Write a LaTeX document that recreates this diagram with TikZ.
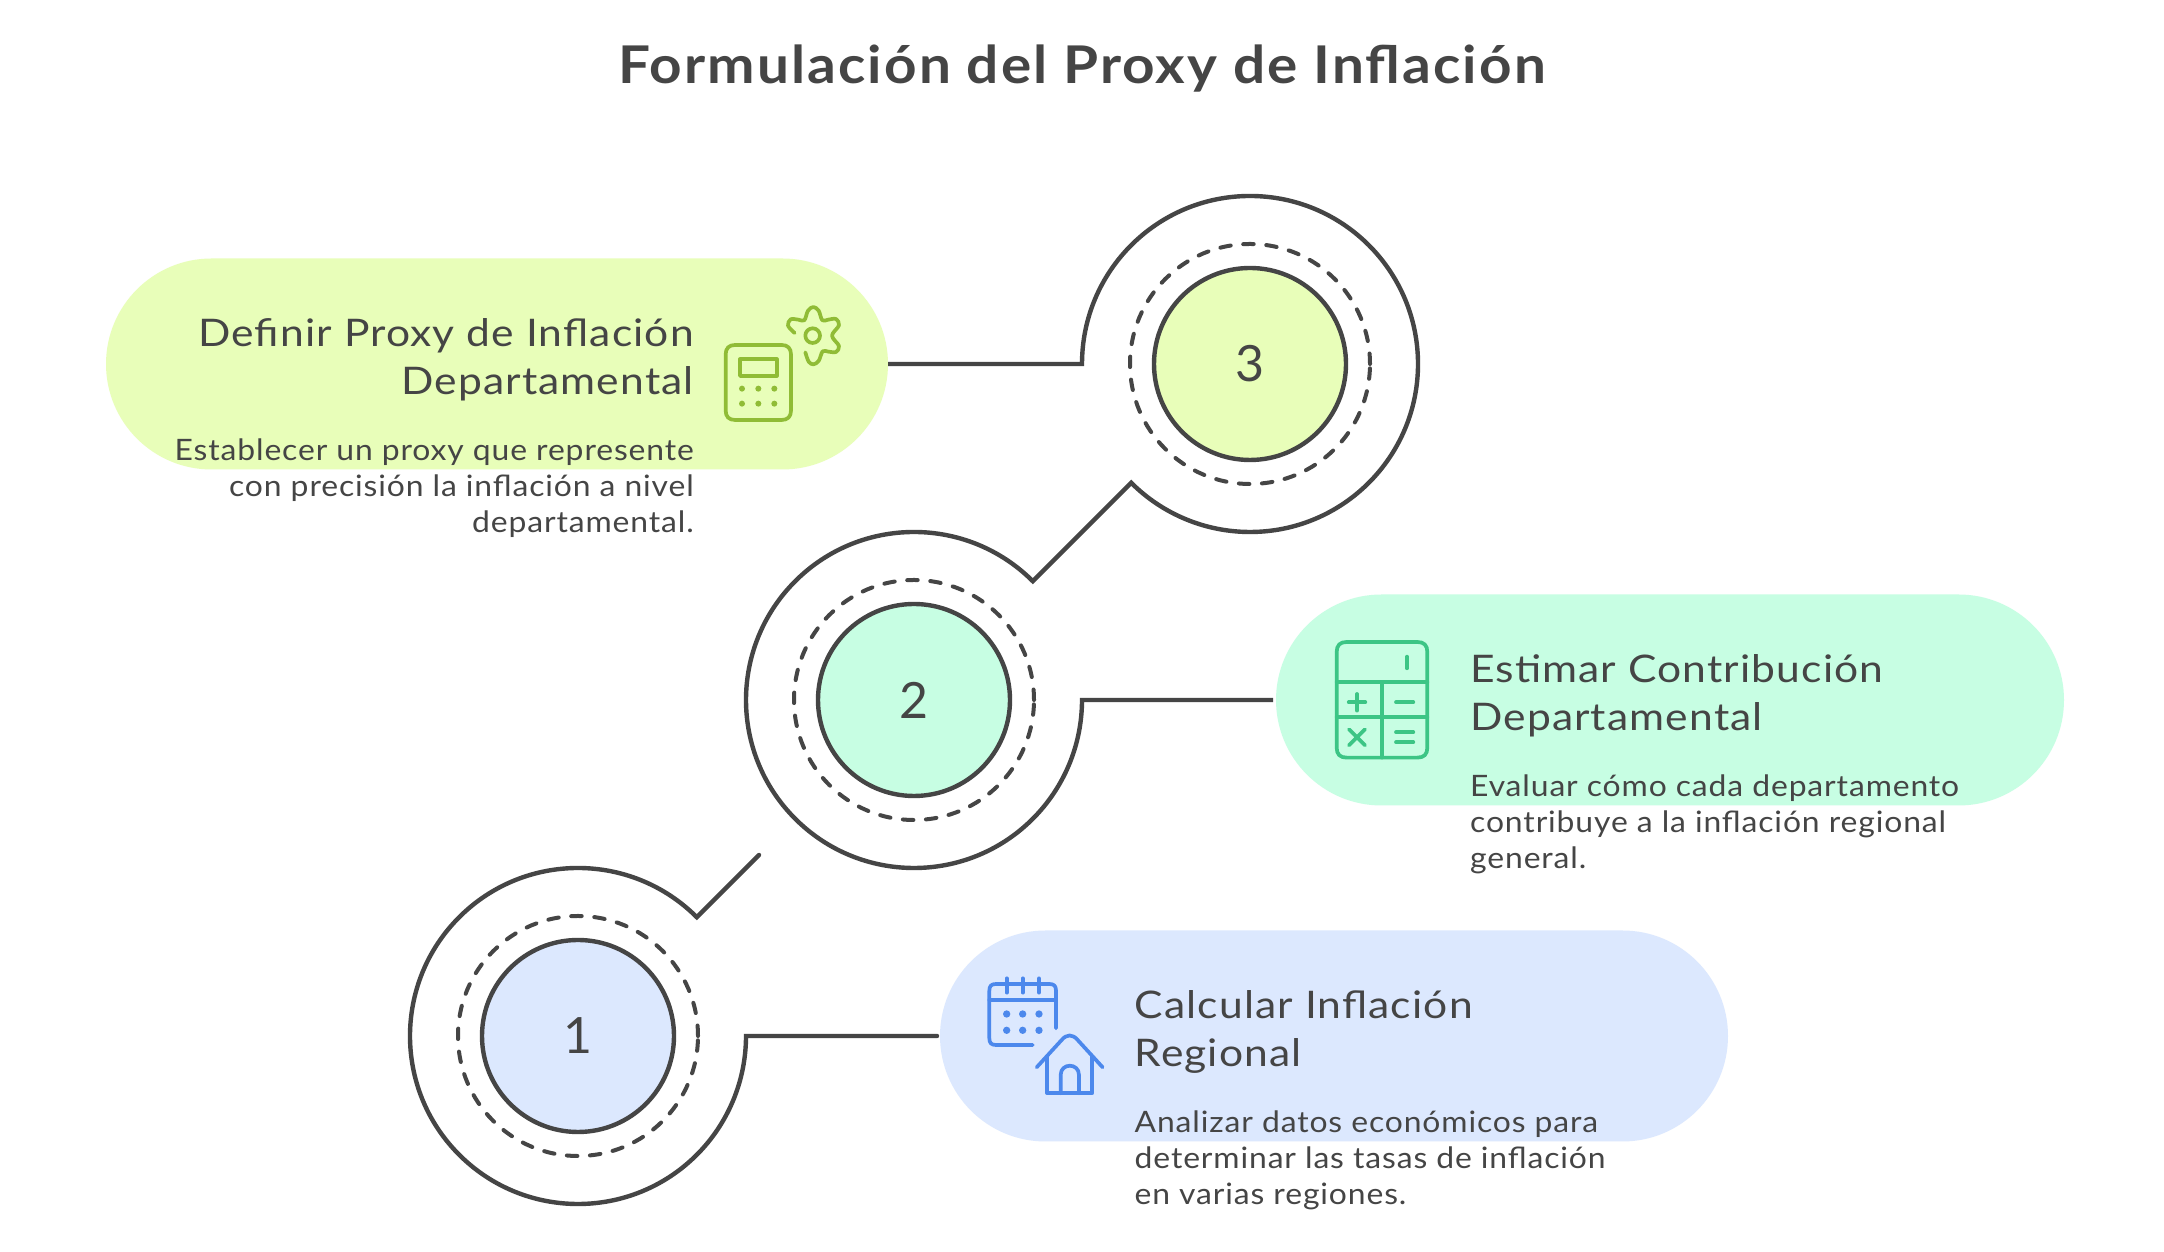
\documentclass[tikz,border=0pt]{standalone}
\usepackage{fontspec}
\setmainfont{Lato}
\newfontfamily\headfont[FakeStretch=1.12,LetterSpace=3]{Lato}
\newfontfamily\descfont[FakeStretch=1.08,LetterSpace=3]{Lato}
\newfontfamily\titlefont[FakeStretch=1.09,LetterSpace=4]{Lato}
\definecolor{ink}{HTML}{454545}
\definecolor{bluefill}{HTML}{DCE8FE}
\definecolor{mintfill}{HTML}{C7FEE3}
\definecolor{limefill}{HTML}{E8FEB9}
\definecolor{blueicon}{HTML}{4C88EC}
\definecolor{minticon}{HTML}{3CC585}
\definecolor{limeicon}{HTML}{90BC36}
\tikzset{
  pill/.style={rectangle,rounded corners=105.5pt,minimum width=#1,minimum height=211pt,inner sep=0pt,outer sep=0pt},
  ringnode/.style={circle,minimum size=336pt,inner sep=0pt,outer sep=0pt},
  dashring/.style={circle,draw=ink,line width=4pt,minimum size=240pt,inner sep=0pt,outer sep=0pt,dash pattern=on 10.5pt off 12.6pt,line cap=round},
  corecircle/.style={circle,draw=ink,line width=4.4pt,minimum size=192pt,inner sep=0pt,outer sep=0pt,text=ink,font=\fontsize{50}{50}\selectfont},
  ringline/.style={draw=ink,line width=4.4pt,line join=miter},
  headtext/.style={text=ink,inner sep=0pt,font=\headfont\fontsize{38}{48.6}\selectfont},
  desctext/.style={text=ink,inner sep=0pt,font=\descfont\fontsize{29.5}{36}\selectfont},
  titletext/.style={text=ink,inner sep=0pt,font=\titlefont\fontsize{52}{60}\selectfont\bfseries},
  iconline/.style={line width=3.7pt,line cap=round,line join=round,fill=none},
  iconscope/.style={x=0.3333pt,y=-0.3333pt}
}
\begin{document}
\begin{tikzpicture}[x=1pt,y=1pt]
\useasboundingbox[fill=white] (0,0) rectangle (2164,1252);

\node[titletext] (title) at (1082,1183) {Formulación del Proxy de Inflación};

% pills
\node[pill=782pt,fill=limefill] (pill3) at (497,888) {};
\node[pill=788pt,fill=mintfill] (pill2) at (1670,552) {};
\node[pill=788pt,fill=bluefill] (pill1) at (1334,216) {};

% rings
\node[ringnode] (ring3) at (1250,888) {};
\node[ringnode] (ring2) at (914,552) {};
\node[ringnode] (ring1) at (578,216) {};
\node[dashring] (dash3) at (ring3) {};
\node[dashring] (dash2) at (ring2) {};
\node[dashring] (dash1) at (ring1) {};
\node[corecircle,fill=limefill] (core3) at (ring3) {\raisebox{-4pt}{3}};
\node[corecircle,fill=mintfill] (core2) at (ring2) {\raisebox{-4pt}{2}};
\node[corecircle,fill=bluefill] (core1) at (ring1) {\raisebox{-2pt}{1}};

% connectors
\coordinate (free1) at (759,397);
\draw[ringline] (pill3.east) -- (ring3.180) arc[start angle=180,end angle=-135,radius=168]
  -- (ring2.45) arc[start angle=45,end angle=360,radius=168] -- ([xshift=-3pt]pill2.west);
\draw[ringline,line cap=round] (free1) -- (ring1.45) arc[start angle=45,end angle=360,radius=168] -- ([xshift=-3pt]pill1.west);

% texts
\node[headtext,anchor=north east,align=right] (h3) at (694,934) {Definir Proxy de Inflación\\Departamental};
\node[desctext,anchor=north east,align=right] (d3) at (694,813) {Establecer un proxy que represente\\con precisión la inflación a nivel\\departamental.};
\node[headtext,anchor=north west,align=left] (h2) at (1470,598) {Estimar Contribución\\Departamental};
\node[desctext,anchor=north west,align=left] (d2) at (1470,477) {Evaluar cómo cada departamento\\contribuye a la inflación regional\\general.};
\node[headtext,anchor=north west,align=left] (h1) at (1134.5,262) {Calcular Inflación\\Regional};
\node[desctext,anchor=north west,align=left] (d1) at (1134.5,141) {Analizar datos económicos para\\determinar las tasas de inflación\\en varias regiones.};

% icon: calculator and gear (lime)
\begin{scope}[shift={(700,972)},iconscope]
  \draw[iconline,draw=limeicon] (77,223) .. controls (77,205) and (87,195) .. (105,195) -- (245,195) .. controls (263,195) and (273,205) .. (273,223) -- (273,392) .. controls (273,410) and (263,420) .. (245,420) -- (105,420) .. controls (87,420) and (77,410) .. (77,392) -- cycle;
  \draw[iconline,draw=limeicon] (120,238) rectangle (230,288);
  \foreach \px in {126,175,223} \foreach \py in {326,371}
    \fill[limeicon] (\px,\py) circle[radius=9];
  \draw[iconline,draw=limeicon] (338,167) circle[radius=22];
  \draw[iconline,draw=limeicon] plot[smooth,tension=0.55] coordinates {(284,159) (264,137) (272,118) (295,119) (313,121) (324,92) (340,81) (356,92) (367,121) (385,119) (408,117) (417,136) (396,167) (417,198) (408,216) (385,215) (368,214) (356,243) (340,253) (326,245) (316,217)};
\end{scope}

% icon: calculator (mint)
\begin{scope}[shift={(1310,632)},iconscope]
  \draw[iconline,draw=minticon] (80,96) .. controls (80,76) and (90,66) .. (110,66) -- (322,66) .. controls (342,66) and (352,76) .. (352,96) -- (352,383) .. controls (352,403) and (342,413) .. (322,413) -- (110,413) .. controls (90,413) and (80,403) .. (80,383) -- cycle;
  \draw[iconline,draw=minticon] (80,187) -- (352,187) (80,292) -- (352,292) (215,187) -- (215,413);
  \draw[iconline,draw=minticon] (291,110) -- (291,145);
  \draw[iconline,draw=minticon] (116,247) -- (166,247) (141,222) -- (141,272);
  \draw[iconline,draw=minticon] (258,247) -- (310,247);
  \draw[iconline,draw=minticon] (117,328) -- (165,376) (165,328) -- (117,376);
  \draw[iconline,draw=minticon] (258,337) -- (310,337) (258,367) -- (310,367);
\end{scope}

% icon: calendar and house (blue)
\begin{scope}[shift={(970,292)},iconscope]
  \draw[iconline,draw=blueicon] (258,205) -- (258,92) .. controls (258,78) and (252,72) .. (238,72) -- (78,72) .. controls (64,72) and (58,78) .. (58,92) -- (58,235) .. controls (58,249) and (64,255) .. (78,255) -- (188,255);
  \draw[iconline,draw=blueicon] (58,120) -- (258,120);
  \draw[iconline,draw=blueicon] (110,55) -- (110,98) (158,55) -- (158,98) (207,55) -- (207,98);
  \foreach \px in {110,158,207} \foreach \py in {162,211}
    \fill[blueicon] (\px,\py) circle[radius=11];
  \draw[iconline,draw=blueicon] (200,322) -- (275,240) .. controls (290,222) and (308,222) .. (323,240) -- (398,322);
  \draw[iconline,draw=blueicon] (232,290) -- (232,400) -- (367,400) -- (367,290);
  \draw[iconline,draw=blueicon] (272,400) -- (272,345) .. controls (272,308) and (327,308) .. (327,345) -- (327,400);
\end{scope}
\end{tikzpicture}
\end{document}
